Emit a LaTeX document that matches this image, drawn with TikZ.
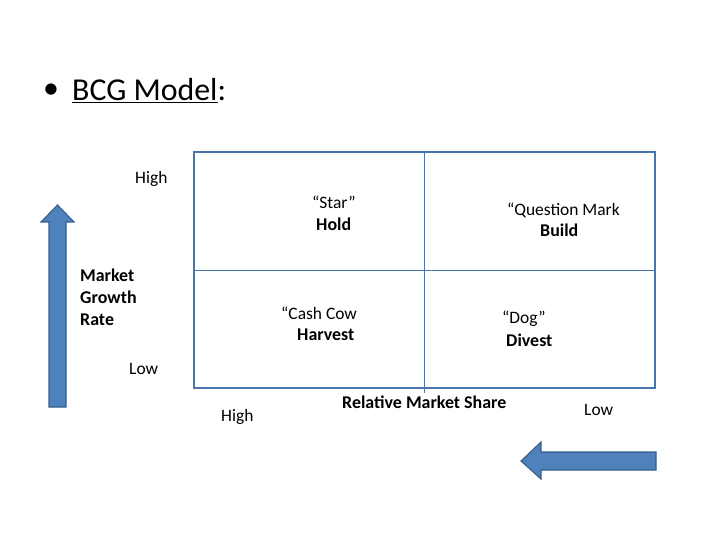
\documentclass[tikz,border=0pt]{standalone}
\usepackage{fontspec}
\setmainfont{Carlito}
\usetikzlibrary{positioning}
\definecolor{ofblue}{HTML}{4F81BD}
\definecolor{ofdark}{HTML}{385D8A}
\definecolor{gridblue}{HTML}{4A76AE}
\tikzset{
  lbl/.style={anchor=base west, inner sep=0pt, font=\fontsize{17.5}{21}\selectfont},
  blbl/.style={lbl, font=\fontsize{18}{21}\selectfont\bfseries},
  bigarrow/.style={fill=ofblue, draw=ofdark, line width=1.1pt, line join=miter},
}
\begin{document}
\begin{tikzpicture}[x=1bp,y=-1bp]
\useasboundingbox (0,0) rectangle (728,546);
% title
\node[anchor=center, inner sep=0pt, font=\fontsize{32}{36}\selectfont] (bullet) at (51,91) {•};
\node[anchor=base west, inner sep=0pt, font=\fontsize{32}{36}\selectfont] (title) at (72,101) {\underline{BCG Model}:};
% matrix
\draw[gridblue, line width=1.8pt] (194,152) rectangle (655,388);
\coordinate (vt) at (424,152);
\coordinate (vb) at (424,393);
\coordinate (hl) at (194,270);
\coordinate (hr) at (655,270);
\draw[gridblue, line width=0.9pt] (vt) -- (vb);
\draw[gridblue, line width=0.9pt] (hl) -- (hr);
% quadrant labels
\node[lbl] (star) at (312,209) {“Star”};
\node[blbl] (hold) at (316,231) {Hold};
\node[lbl] (qm) at (507,216) {“Question Mark};
\node[blbl] (build) at (540,237) {Build};
\node[lbl] (cow) at (281,319) {“Cash Cow};
\node[blbl] (harvest) at (297,340) {Harvest};
\node[lbl] (dog) at (502,323) {“Dog”};
\node[blbl] (divest) at (506,346) {Divest};
% axis labels
\node[lbl] (hightop) at (135,184) {High};
\node[lbl] (lowleft) at (129,374) {Low};
\node[blbl] (mgr1) at (80,282) {Market};
\node[blbl] (mgr2) at (80,303.5) {Growth};
\node[blbl] (mgr3) at (80,325) {Rate};
\node[blbl] (rms) at (342,408.5) {Relative Market Share};
\node[lbl] (highbot) at (221,421) {High};
\node[lbl] (lowbot) at (584,415) {Low};
% arrows
\draw[bigarrow] (49,407) -- (49,222) -- (41,222) -- (57.5,205) -- (74,222) -- (66,222) -- (66,407) -- cycle;
\draw[bigarrow] (656,452) -- (541,452) -- (541,442) -- (521,461) -- (541,479) -- (541,470) -- (656,470) -- cycle;
\end{tikzpicture}
\end{document}
